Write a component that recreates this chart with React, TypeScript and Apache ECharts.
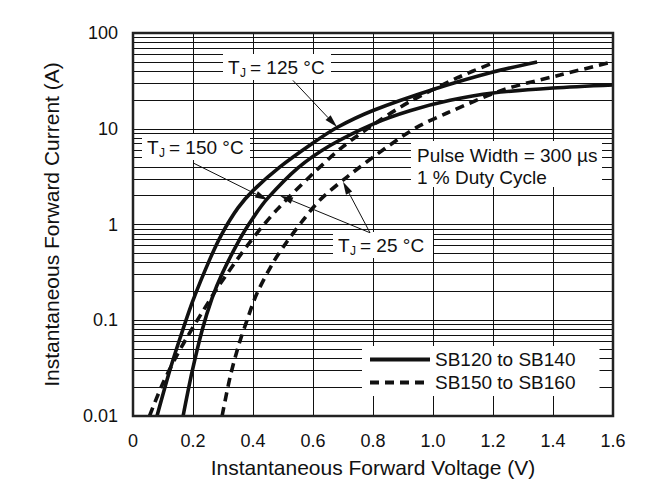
import React, { useEffect, useRef } from 'react';
import * as echarts from 'echarts';

const FONT = '"Liberation Sans", Arial, Helvetica, sans-serif';
const INK = '#111';

// curves: forward voltage (V) / current (A)
const solidAVolts = [0.08, 0.123, 0.157, 0.2, 0.257, 0.297, 0.35, 0.4, 0.49, 0.6, 0.68, 0.8, 1.0, 1.2, 1.347];
const solidAAmps = [0.01, 0.0302, 0.0653, 0.161, 0.44, 0.805, 1.49, 2.26, 4.0, 7.1, 10.3, 15.5, 25.7, 39.1, 49.8];

const solidBVolts = [0.167, 0.197, 0.23, 0.263, 0.297, 0.357, 0.4, 0.447, 0.55, 0.657, 0.8, 0.923, 1.057, 1.2, 1.4, 1.6];
const solidBAmps = [0.01, 0.029, 0.0778, 0.168, 0.306, 0.713, 1.17, 1.85, 3.9, 6.68, 11.2, 15.4, 19.8, 23.6, 26.6, 28.6];

const dashedAVolts = [0.055, 0.097, 0.14, 0.18, 0.257, 0.29, 0.39, 0.48, 0.6, 0.7, 0.813, 0.923, 1.08, 1.2];
const dashedAAmps = [0.01, 0.0211, 0.0394, 0.0662, 0.165, 0.239, 0.656, 1.43, 3.4, 6.51, 11.7, 19.2, 33.9, 48.7];

const dashedBVolts = [0.297, 0.323, 0.35, 0.38, 0.413, 0.467, 0.513, 0.567, 0.623, 0.713, 0.847, 0.947, 1.047, 1.233, 1.423, 1.6];
const dashedBAmps = [0.01, 0.025, 0.052, 0.1, 0.19, 0.4, 0.66, 1.11, 1.8, 3.13, 6.45, 10.4, 14.6, 25.4, 36.4, 50];

const xTickLabels = ['0', '0.2', '0.4', '0.6', '0.8', '1.0', '1.2', '1.4', '1.6'];
const yTicks = [0.01, 0.1, 1, 10, 100];
const yTickLabels = ['0.01', '0.1', '1', '10', '100'];
const yMinorLines = [
  0.02, 0.03, 0.04, 0.05, 0.06, 0.07, 0.08, 0.09,
  0.2, 0.3, 0.4, 0.5, 0.6, 0.7, 0.8, 0.9,
  2, 3, 4, 5, 6, 7, 8, 9,
  20, 30, 40, 50, 60, 70, 80, 90,
];

// annotation arrows, [V, A] from -> to
const arrows = [
  [[0.533, 32], [0.68, 10.4]],
  [[0.2, 4.4], [0.45, 1.8]],
  [[0.79, 0.82], [0.7, 2.8]],
  [[0.79, 0.82], [0.49, 2.0]],
];

const series = (name: string, xs: number[], ys: number[], dashed: boolean) => ({
  name,
  type: 'line',
  data: xs.map((v, i) => [v, ys[i]]),
  smooth: 0.3,
  symbol: 'none',
  showSymbol: false,
  color: INK,
  lineStyle: { color: INK, width: 3.6, type: dashed ? [9, 6] : 'solid' },
  z: 3,
});

const txt = (text: string, x: number, y: number, size = 19) => ({
  type: 'text',
  z: 100,
  style: {
    text, x, y, fontSize: size, fontFamily: FONT, fill: INK,
    verticalAlign: 'middle', textVerticalAlign: 'middle',
  },
});

const box = (w: number, h: number) => ({
  type: 'rect',
  z: 99,
  shape: { x: 0, y: 0, width: w, height: h },
  style: { fill: '#fff' },
});

const tjLabel = (x: number, y: number, w: number, temp: string) => ({
  type: 'group',
  x,
  y,
  z: 99,
  children: [box(w, 26), txt('T', 5, 13), txt('J', 17, 19, 12), txt('= ' + temp + ' °C', 27, 13)],
});

const App: React.FC = () => {
  const chartRef = useRef<HTMLDivElement>(null);

  useEffect(() => {
    if (!chartRef.current) return;
    const chart = echarts.init(chartRef.current, null, { renderer: 'svg' });

    const a: any = series('SB120 to SB140', solidAVolts, solidAAmps, false);
    const b = series('SB120 to SB140', solidBVolts, solidBAmps, false);
    const c = series('SB150 to SB160', dashedAVolts, dashedAAmps, true);
    const d = series('SB150 to SB160', dashedBVolts, dashedBAmps, true);

    // minor log grid lines
    a.markLine = {
      silent: true,
      z: 1,
      symbol: 'none',
      label: { show: false },
      lineStyle: { color: INK, width: 1, type: 'solid' },
      data: yMinorLines.map((v) => ({ yAxis: v })),
    };

    chart.setOption({
      animation: false,
      backgroundColor: '#fff',
      textStyle: { fontFamily: FONT, color: INK },
      grid: {
        left: 133,
        top: 33,
        width: 480,
        height: 383,
        show: true,
        borderColor: '#222',
        borderWidth: 2.5,
        z: 10,
      },
      legend: {
        data: ['SB120 to SB140', 'SB150 to SB160'],
        orient: 'vertical',
        left: 362,
        top: 346,
        padding: [4, 24, 4, 6],
        itemWidth: 60,
        itemHeight: 14,
        itemGap: 4,
        backgroundColor: '#fff',
        selectedMode: false,
        itemStyle: { opacity: 0 },
        lineStyle: { width: 4 },
        textStyle: { fontSize: 19, lineHeight: 19, color: INK, fontFamily: FONT },
        z: 50,
      },
      xAxis: {
        type: 'value',
        min: 0,
        max: 1.6,
        interval: 0.2,
        axisLine: { show: false },
        axisTick: { show: false },
        splitLine: { show: true, lineStyle: { color: INK, width: 1 } },
        axisLabel: {
          fontSize: 18,
          color: INK,
          margin: 16,
          formatter: (v: number) => xTickLabels[Math.round(v / 0.2)] ?? '',
        },
        name: 'Instantaneous Forward Voltage (V)',
        nameLocation: 'middle',
        nameGap: 41,
        nameTextStyle: { fontSize: 21, color: INK },
      },
      yAxis: {
        type: 'log',
        logBase: 10,
        min: 0.01,
        max: 100,
        axisLine: { show: false },
        axisTick: { show: false },
        splitLine: { show: true, lineStyle: { color: INK, width: 1 } },
        axisLabel: {
          fontSize: 18,
          color: INK,
          margin: 15,
          formatter: (v: number) => {
            const i = yTicks.findIndex((t) => Math.abs(Math.log10(t) - Math.log10(v)) < 1e-6);
            return i >= 0 ? yTickLabels[i] : '';
          },
        },
        name: 'Instantaneous Forward Current (A)',
        nameLocation: 'middle',
        nameGap: 71,
        nameTextStyle: { fontSize: 21, color: INK },
      },
      series: [a, b, c, d],
    });

    // arrows placed through the axes
    const arrowEls: any[] = [];
    arrows.forEach(([from, to]) => {
      const p0 = chart.convertToPixel({ gridIndex: 0 }, from) as number[];
      const p1 = chart.convertToPixel({ gridIndex: 0 }, to) as number[];
      const dx = p1[0] - p0[0];
      const dy = p1[1] - p0[1];
      const len = Math.hypot(dx, dy);
      const ux = dx / len;
      const uy = dy / len;
      const headL = 13;
      const headW = 3.5;
      const bx = p1[0] - ux * headL;
      const by = p1[1] - uy * headL;
      arrowEls.push({
        type: 'line',
        z: 101,
        shape: { x1: p0[0], y1: p0[1], x2: bx, y2: by },
        style: { stroke: INK, lineWidth: 1 },
      });
      arrowEls.push({
        type: 'polygon',
        z: 101,
        shape: {
          points: [
            [p1[0], p1[1]],
            [bx - uy * headW, by + ux * headW],
            [bx + uy * headW, by - ux * headW],
          ],
        },
        style: { fill: INK },
      });
    });

    chart.setOption({
      graphic: [
        tjLabel(223, 54, 108, '125'),
        tjLabel(142, 134, 108, '150'),
        tjLabel(333, 232, 100, '25'),
        {
          type: 'group',
          x: 411,
          y: 141,
          z: 99,
          children: [box(191, 46), txt('Pulse Width = 300 µs', 6, 14), txt('1 % Duty Cycle', 6, 36)],
        },
        ...arrowEls,
      ],
    });

    return () => {
      chart.dispose();
    };
  }, []);

  return (
    <div
      ref={chartRef}
      style={{ position: 'fixed', left: 0, top: 0, width: '665px', height: '497px', background: '#fff' }}
    />
  );
};

export default App;
